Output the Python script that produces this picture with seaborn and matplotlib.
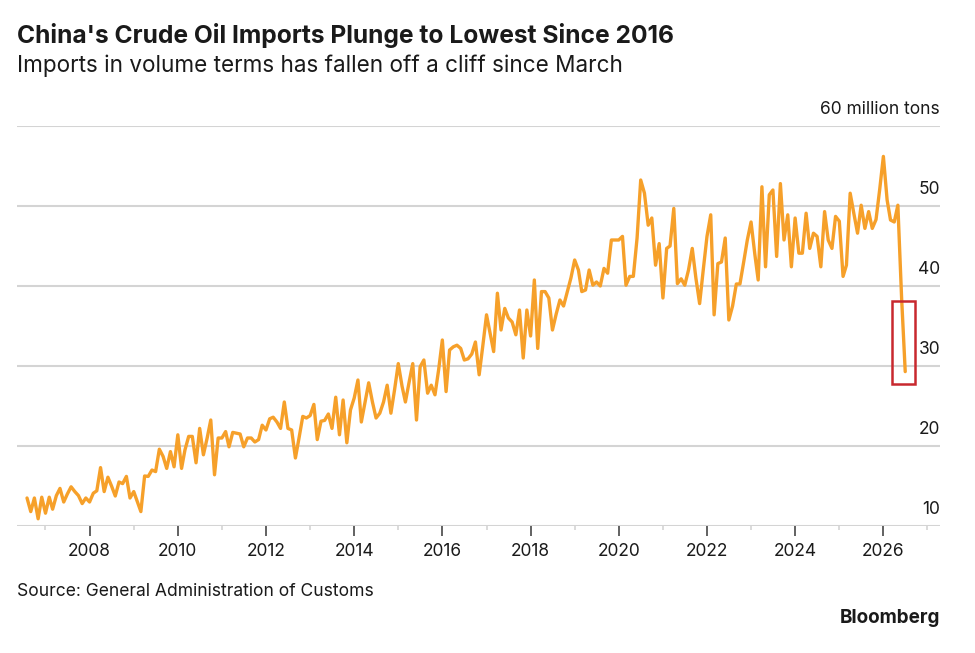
import numpy as np
import pandas as pd
import matplotlib
matplotlib.use("Agg")
import matplotlib.pyplot as plt
import matplotlib.dates as mdates
from matplotlib.patches import Rectangle
import seaborn as sns

# monthly crude oil imports, million tons
start_month = "2006-08"

imports_2006_2010 = [
    13.5, 11.8, 13.5, 10.9, 13.6, 11.6, 13.6, 12.1, 13.8, 14.7,
    13.0, 14.0, 14.9, 14.3, 13.8, 12.8, 13.5, 13.0, 14.1, 14.4,
    17.3, 14.3, 16.1, 15.0, 13.75, 15.5, 15.3, 16.2, 13.5, 14.3,
    13.0, 11.8, 16.25, 16.2, 17.0, 16.8, 19.6, 18.7, 17.2, 19.3,
    17.4, 21.4, 17.2, 19.5, 21.2, 21.2, 17.9, 22.2, 18.9, 21.0,
    23.25, 16.4, 21.0,
]
imports_2011_2015 = [
    21.0, 21.8, 19.9, 21.7, 21.6, 21.5, 19.9, 21.0, 21.0, 20.5,
    20.8, 22.6, 22.0, 23.4, 23.6, 23.0, 22.2, 25.5, 22.2, 22.0,
    18.5, 21.0, 23.7, 23.5, 23.8, 25.2, 20.8, 23.1, 23.2, 24.0,
    22.2, 26.1, 21.4, 25.75, 20.4, 24.5, 26.0, 28.25, 23.0, 25.5,
    27.9, 25.5, 23.5, 24.1, 25.5, 27.6, 24.1, 27.0, 30.3, 27.5,
    25.5, 28.0, 30.3, 23.25, 29.9, 30.75, 26.6, 27.6, 26.4, 29.5,
]
imports_2016_2020 = [
    33.25, 26.8, 32.0, 32.4, 32.6, 32.2, 30.75, 30.9, 31.5, 33.0,
    28.9, 32.5, 36.4, 34.0, 31.8, 39.1, 34.5, 37.2, 36.0, 35.5,
    33.9, 37.0, 31.0, 37.0, 33.75, 40.75, 32.2, 39.3, 39.3, 38.5,
    34.5, 36.5, 38.25, 37.5, 39.3, 41.0, 43.25, 42.0, 39.3, 39.5,
    42.0, 40.1, 40.5, 40.0, 42.2, 41.6, 45.75, 45.75, 45.75, 46.2,
    40.1, 41.2, 41.2, 46.0, 53.25, 51.6, 47.6, 48.5, 42.6, 45.3,
]
imports_2021_2026 = [
    38.5, 44.7, 45.0, 49.7, 40.3, 40.9, 40.1, 42.0, 44.7, 41.0,
    37.8, 42.0, 46.2, 48.9, 36.4, 42.8, 43.0, 46.0, 35.75, 37.5,
    40.25, 40.25, 43.0, 45.75, 48.0, 44.0, 40.75, 52.4, 42.4, 51.4,
    52.0, 43.7, 52.8, 45.75, 48.9, 42.4, 48.5, 44.1, 44.1, 49.1,
    44.7, 46.6, 46.2, 42.4, 49.3, 45.75, 44.7, 48.7, 48.1, 41.2,
    42.6, 51.6, 49.1, 46.6, 50.1, 47.2, 49.3, 47.2, 48.3, 52.0,
    56.2, 50.75, 48.25, 48.0, 50.1, 38.5, 29.3,
]

values = imports_2006_2010 + imports_2011_2015 + imports_2016_2020 + imports_2021_2026
df = pd.DataFrame({
    "month": pd.date_range(start_month, periods=len(values), freq="MS"),
    "imports": values,
})

y_levels = [10, 20, 30, 40, 50, 60]
y_labels = ["10", "20", "30", "40", "50", "60 million tons"]

LINE = "#F6A02A"
GRID = "#D4D4D4"
TEXT = "#1A1A1A"

sns.set_theme(style="white")
plt.rcParams["font.family"] = ["Inter", "DejaVu Sans"]

fig = plt.figure(figsize=(9.75, 6.53), dpi=100)
ax = fig.add_axes([17 / 975, 127 / 653, 923 / 975, 400 / 653])

for lv in y_levels:
    ax.axhline(lv, color=GRID, lw=1.5, zorder=1)

sns.lineplot(data=df, x="month", y="imports", color=LINE, lw=2.4, ax=ax, zorder=3)

ax.set_xlim(pd.Timestamp("2006-05-10"), pd.Timestamp("2027-04-15"))
ax.set_ylim(10, 60)
for s in ax.spines.values():
    s.set_visible(False)
ax.set_xlabel("")
ax.set_ylabel("")
ax.set_yticks([])

ax.xaxis.set_major_locator(mdates.YearLocator(2))
ax.xaxis.set_major_formatter(mdates.DateFormatter("%Y"))
ax.xaxis.set_minor_locator(mdates.YearLocator(1))
ax.tick_params(axis="x", which="major", length=7, width=1.3, color="#555555",
               labelsize=12.5, labelcolor=TEXT, pad=5, bottom=True)
ax.tick_params(axis="x", which="minor", length=3, width=1.2, color=GRID, bottom=True)

for lv, lab in zip(y_levels, y_labels):
    ax.annotate(lab, xy=(1.0, lv), xycoords=("axes fraction", "data"),
                xytext=(0, 6), textcoords="offset points",
                ha="right", va="bottom", fontsize=12.5, color=TEXT)

# highlight box around the latest plunge
x0 = mdates.date2num(pd.Timestamp("2026-03-15"))
x1 = mdates.date2num(pd.Timestamp("2026-09-20"))
ax.add_patch(Rectangle((x0, 27.8), x1 - x0, 10.3, fill=False,
                       edgecolor="#C8282E", lw=1.8, zorder=4))

fig.text(17 / 975, 1 - 35 / 653, "China's Crude Oil Imports Plunge to Lowest Since 2016",
         fontsize=17.7, fontweight="bold", color=TEXT, va="center", ha="left")
fig.text(17 / 975, 1 - 66 / 653, "Imports in volume terms has fallen off a cliff since March",
         fontsize=16.2, color=TEXT, va="center", ha="left")
fig.text(17 / 975, 1 - 592 / 653, "Source: General Administration of Customs",
         fontsize=12.6, color=TEXT, va="center", ha="left")
fig.text(940 / 975, 1 - 618 / 653, "Bloomberg",
         fontsize=13.6, fontweight="bold", color=TEXT, va="center", ha="right")

fig.savefig("out.png", dpi=100, facecolor="white")
